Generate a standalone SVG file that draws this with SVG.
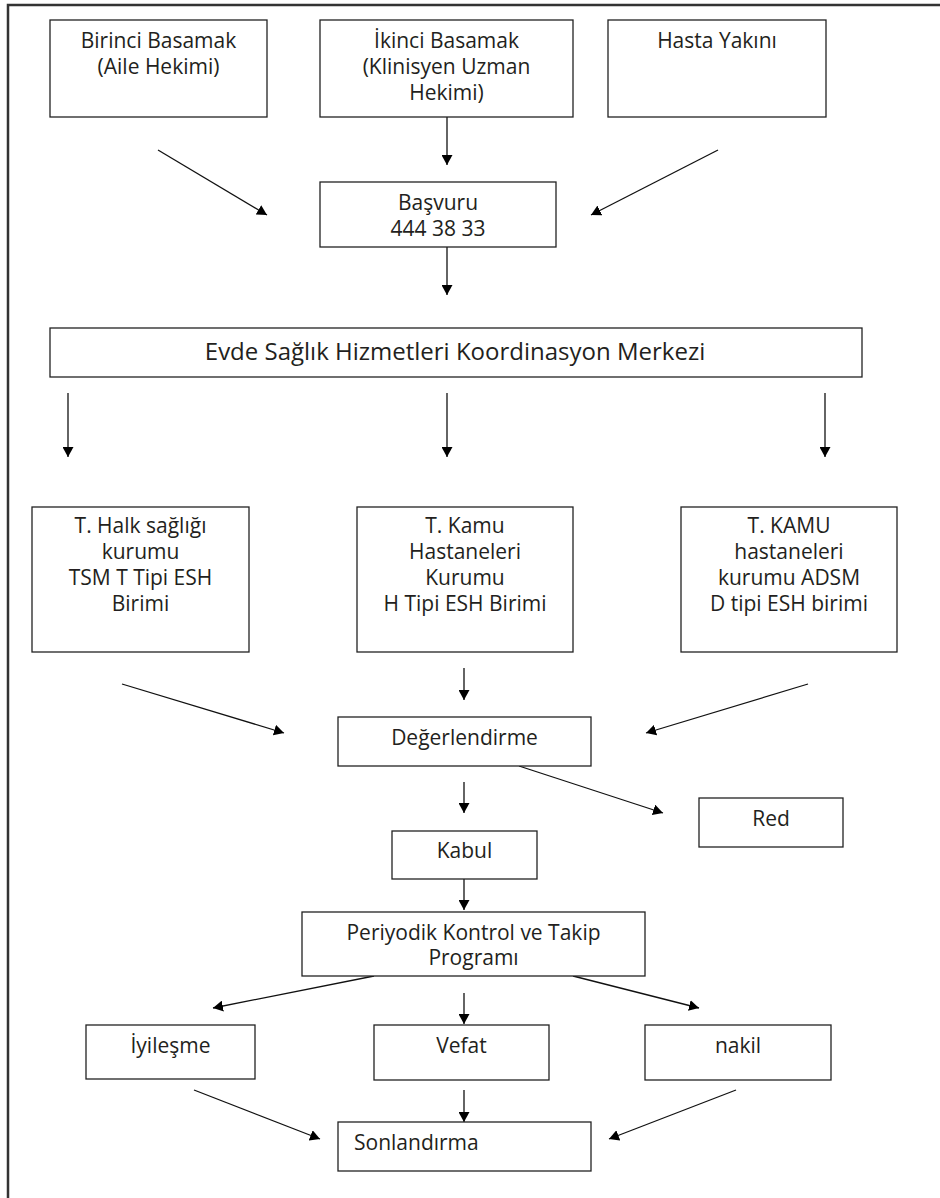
<svg xmlns="http://www.w3.org/2000/svg" width="940" height="1198" viewBox="0 0 940 1198">
<style>
.box{fill:#fff;stroke:#222;stroke-width:1.3}
.t{font-family:"Open Sans","Noto Sans","Liberation Sans",sans-serif;font-size:21px;fill:#231f20;text-anchor:middle}
.big{font-size:24px}
.l{text-anchor:start}
.c{stroke:#111;stroke-width:1.3;fill:none;marker-end:url(#ah)}
</style>
<defs>
<marker id="ah" markerUnits="userSpaceOnUse" markerWidth="11" markerHeight="11" refX="10" refY="5.5" orient="auto">
<path d="M0,0 L10,5.5 L0,11 Z" fill="#000"/>
</marker>
</defs>
<rect width="940" height="1198" fill="#fff"/>
<path d="M8,1198 V5 H940" fill="none" stroke="#333" stroke-width="2.5"/>

<g id="connectors">
<line class="c" x1="158" y1="150" x2="267" y2="215"/>
<line class="c" x1="718" y1="150" x2="591" y2="215"/>
<line class="c" x1="447" y1="117" x2="447" y2="165"/>
<line class="c" x1="447" y1="247" x2="447" y2="295"/>
<line class="c" x1="68" y1="393" x2="68" y2="457"/>
<line class="c" x1="447" y1="393" x2="447" y2="457"/>
<line class="c" x1="825" y1="393" x2="825" y2="457"/>
<line class="c" x1="122" y1="684" x2="284" y2="733"/>
<line class="c" x1="464" y1="668" x2="464" y2="700"/>
<line class="c" x1="808" y1="684" x2="646" y2="733"/>
<line class="c" x1="464" y1="782" x2="464" y2="813"/>
<line class="c" x1="519" y1="766" x2="663" y2="813"/>
<line class="c" x1="464" y1="879" x2="464" y2="910"/>
<line class="c" x1="374" y1="976" x2="213" y2="1008"/>
<line class="c" x1="464" y1="993" x2="464" y2="1024"/>
<line class="c" x1="573" y1="976" x2="699" y2="1008"/>
<line class="c" x1="194" y1="1090" x2="320" y2="1139"/>
<line class="c" x1="464" y1="1090" x2="464" y2="1122"/>
<line class="c" x1="736" y1="1090" x2="609" y2="1139"/>
</g>

<g id="birinci">
<rect class="box" x="50" y="20" width="217" height="97"/>
<text class="t" x="158.5" y="48">Birinci Basamak</text>
<text class="t" x="158.5" y="74">(Aile Hekimi)</text>
</g>
<g id="ikinci">
<rect class="box" x="320" y="20" width="253" height="97"/>
<text class="t" x="446.5" y="48">İkinci Basamak</text>
<text class="t" x="446.5" y="74">(Klinisyen Uzman</text>
<text class="t" x="446.5" y="100">Hekimi)</text>
</g>
<g id="hasta">
<rect class="box" x="608" y="20" width="218" height="97"/>
<text class="t" x="717" y="48">Hasta Yakını</text>
</g>
<g id="basvuru">
<rect class="box" x="320" y="182" width="236" height="65"/>
<text class="t" x="438" y="210">Başvuru</text>
<text class="t" x="438" y="236">444 38 33</text>
</g>
<g id="evde">
<rect class="box" x="50" y="328" width="812" height="49"/>
<text class="t big" x="455" y="360">Evde Sağlık Hizmetleri Koordinasyon Merkezi</text>
</g>
<g id="halk">
<rect class="box" x="32" y="507" width="217" height="145"/>
<text class="t" x="140.5" y="533">T. Halk sağlığı</text>
<text class="t" x="140.5" y="559">kurumu</text>
<text class="t" x="140.5" y="585">TSM T Tipi ESH</text>
<text class="t" x="140.5" y="611">Birimi</text>
</g>
<g id="kamu">
<rect class="box" x="357" y="507" width="216" height="145"/>
<text class="t" x="465" y="533">T. Kamu</text>
<text class="t" x="465" y="559">Hastaneleri</text>
<text class="t" x="465" y="585">Kurumu</text>
<text class="t" x="465" y="611">H Tipi ESH Birimi</text>
</g>
<g id="kamu-adsm">
<rect class="box" x="681" y="507" width="216" height="145"/>
<text class="t" x="789" y="533">T. KAMU</text>
<text class="t" x="789" y="559">hastaneleri</text>
<text class="t" x="789" y="585">kurumu ADSM</text>
<text class="t" x="789" y="611">D tipi ESH birimi</text>
</g>
<g id="degerlendirme">
<rect class="box" x="338" y="717" width="253" height="49"/>
<text class="t" x="464.5" y="745">Değerlendirme</text>
</g>
<g id="red">
<rect class="box" x="699" y="798" width="144" height="49"/>
<text class="t" x="771" y="826">Red</text>
</g>
<g id="kabul">
<rect class="box" x="392" y="831" width="145" height="48"/>
<text class="t" x="464.5" y="858">Kabul</text>
</g>
<g id="periyodik">
<rect class="box" x="302" y="912" width="343" height="64"/>
<text class="t" x="473.5" y="940">Periyodik Kontrol ve Takip</text>
<text class="t" x="473.5" y="965">Programı</text>
</g>
<g id="iyilesme">
<rect class="box" x="86" y="1025" width="169" height="54"/>
<text class="t" x="170.5" y="1053">İyileşme</text>
</g>
<g id="vefat">
<rect class="box" x="374" y="1025" width="175" height="55"/>
<text class="t" x="461.5" y="1053">Vefat</text>
</g>
<g id="nakil">
<rect class="box" x="645" y="1025" width="186" height="55"/>
<text class="t" x="738" y="1053">nakil</text>
</g>
<g id="sonlandirma">
<rect class="box" x="338" y="1122" width="253" height="49"/>
<text class="t l" x="354" y="1150">Sonlandırma</text>
</g>
</svg>
